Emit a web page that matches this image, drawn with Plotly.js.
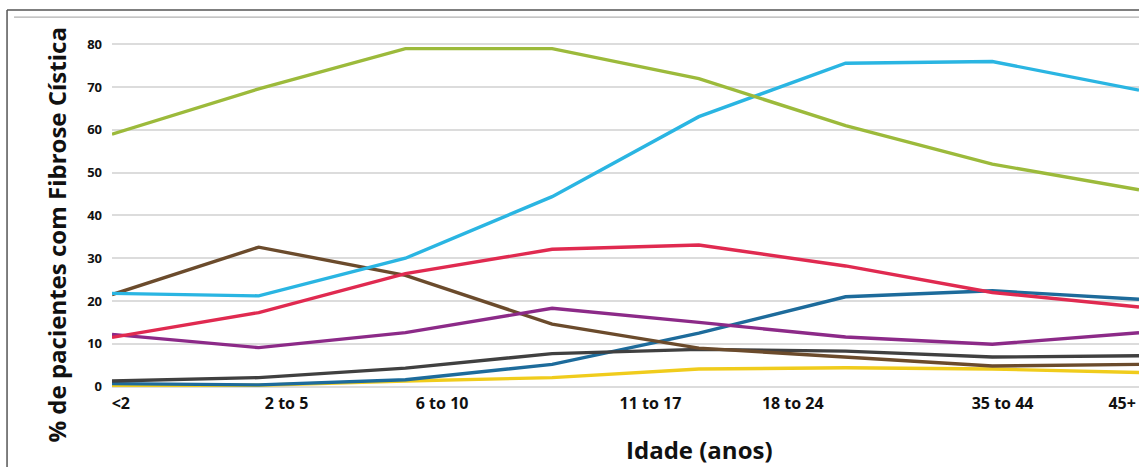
<!DOCTYPE html>
<html>
<head>
<meta charset="utf-8">
<script src="https://cdn.plot.ly/plotly-3.0.1.min.js"></script>
<style>
  html, body { margin: 0; padding: 0; background: #ffffff; }
  #chart { width: 1139px; height: 467px; }
</style>
</head>
<body>
<div id="chart"></div>
<script>
// ---- data ----
const categories = ['<2', '2 to 5', '6 to 10', '11 to 17', '18 to 24', '25 to 34', '35 to 44', '45+'];
const tickLabels = ['<2', '2 to 5', '6 to 10', '11 to 17', '18 to 24', '35 to 44', '45+'];
const yTickValues = [0, 10, 20, 30, 40, 50, 60, 70, 80];

const staphAureus   = [59, 69.6, 79, 79, 72, 61, 52, 46];
const pseudomonas   = [21.8, 21.2, 30, 44.4, 63.1, 75.6, 76, 69.3];
const mrsa          = [11.5, 17.3, 26.4, 32.1, 33.1, 28.2, 22, 18.6];
const haemophilus   = [21.5, 32.6, 26, 14.6, 9, 7, 4.8, 5.2];
const stenotroph    = [12.2, 9.1, 12.6, 18.3, 15, 11.6, 9.9, 12.6];
const burkholderia  = [0.3, 0.3, 1.3, 2.1, 4.1, 4.4, 4.1, 3.3];
const mdrPseudo     = [0.7, 0.4, 1.6, 5.2, 12.5, 21, 22.4, 20.4];
const achromobacter = [1.3, 2.1, 4.3, 7.7, 8.7, 8.3, 6.9, 7.2];

// ---- presentation ----
const xIndex = categories.map((_, i) => i);
const tickPositions = [0.06, 1.19, 2.25, 3.67, 4.64, 6.07, 6.885];

const seriesList = [
  { name: 'Burkholderia cepacia', y: burkholderia, color: '#f0cc1c' },
  { name: 'MDR-PA', y: mdrPseudo, color: '#1d6b9b' },
  { name: 'Achromobacter', y: achromobacter, color: '#404040' },
  { name: 'Haemophilus influenzae', y: haemophilus, color: '#6b4b2c' },
  { name: 'Stenotrophomonas maltophilia', y: stenotroph, color: '#8c2a88' },
  { name: 'MRSA', y: mrsa, color: '#e02a50' },
  { name: 'Pseudomonas aeruginosa', y: pseudomonas, color: '#2ab5e2' },
  { name: 'Staphylococcus aureus', y: staphAureus, color: '#9cba3b' }
];

const traces = seriesList.map(s => ({
  type: 'scatter',
  mode: 'lines',
  name: s.name,
  x: xIndex,
  y: s.y,
  text: categories,
  hovertemplate: '%{text}: %{y}%<extra>' + s.name + '</extra>',
  line: { color: s.color, width: 3.4 }
}));

const fontFamily = '"Open Sans", "DejaVu Sans", sans-serif';

const layout = {
  width: 1139,
  height: 467,
  margin: { l: 112, r: 0, t: 20, b: 77 },
  paper_bgcolor: '#ffffff',
  plot_bgcolor: '#ffffff',
  showlegend: false,
  font: { family: fontFamily, color: '#111111' },
  xaxis: {
    type: 'linear',
    range: [0, 7],
    tickmode: 'array',
    tickvals: tickPositions,
    ticktext: tickLabels,
    ticklabeloverflow: 'allow',
    showgrid: false,
    zeroline: false,
    showline: false,
    ticks: '',
    ticklabelstandoff: 2,
    tickfont: { family: fontFamily, size: 16, color: '#111111', weight: 'bold' },
    fixedrange: true
  },
  yaxis: {
    range: [-0.8, 85.7],
    tickmode: 'array',
    tickvals: yTickValues,
    ticktext: yTickValues.map(v => String(v).padStart(2, '\u2007')),
    showgrid: true,
    gridcolor: '#dcdcdc',
    gridwidth: 2,
    zeroline: false,
    showline: false,
    ticks: '',
    ticklabelstandoff: 9,
    tickfont: { family: fontFamily, size: 13, color: '#111111', weight: 'bold' },
    fixedrange: true
  },
  annotations: [
    {
      text: '% de pacientes com Fibrose Cística',
      xref: 'paper', yref: 'paper',
      x: -0.0536, y: 0.42,
      xanchor: 'center', yanchor: 'middle',
      textangle: -90,
      showarrow: false,
      font: { family: fontFamily, size: 24, color: '#111111', weight: 'bold' }
    },
    {
      text: 'Idade (anos)',
      xref: 'paper', yref: 'paper',
      x: 0.5725, y: -0.162,
      xanchor: 'center', yanchor: 'middle',
      showarrow: false,
      font: { family: fontFamily, size: 24, color: '#111111', weight: 'bold' }
    }
  ],
  shapes: [
    { type: 'line', xref: 'paper', yref: 'paper', x0: -0.1022, x1: 1.01, y0: 1.027, y1: 1.027,
      line: { color: '#555555', width: 1.5 }, layer: 'below' },
    { type: 'line', xref: 'paper', yref: 'paper', x0: -0.1022, x1: -0.1022, y0: 1.027, y1: -0.3,
      line: { color: '#555555', width: 1.5 }, layer: 'below' },
    { type: 'line', xref: 'paper', yref: 'paper', x0: -0.0954, x1: 1.01, y0: 1.008, y1: 1.008,
      line: { color: '#b0b0b0', width: 1.2 }, layer: 'below' }
  ]
};

Plotly.newPlot('chart', traces, layout, { displayModeBar: false, responsive: false });
</script>
</body>
</html>
